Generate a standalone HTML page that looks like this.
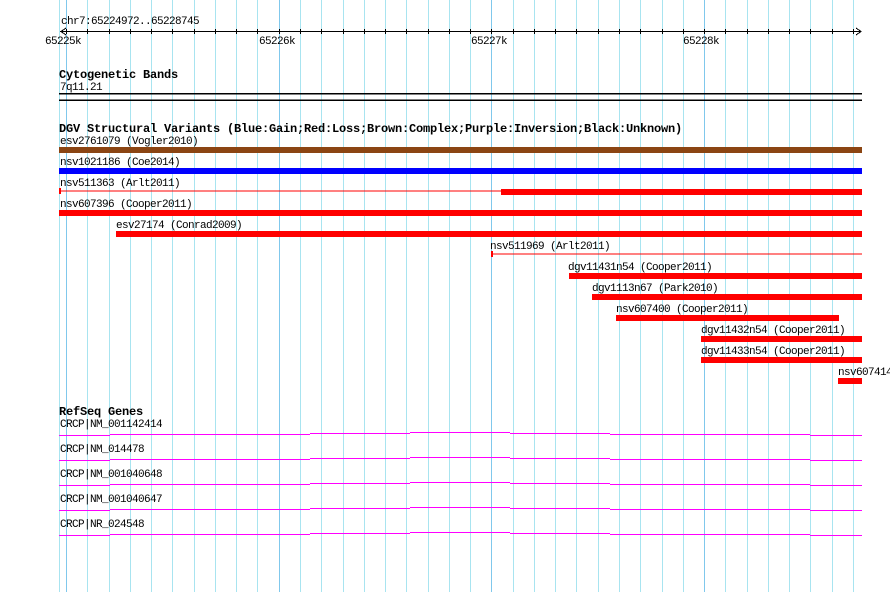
<!DOCTYPE html>
<html><head><meta charset="utf-8"><style>
html,body{margin:0;padding:0;background:#fff}
svg{display:block}
text{font-family:"Liberation Mono","DejaVu Sans Mono",monospace;font-size:11px;letter-spacing:-0.6px;fill:#000}
.b{font-weight:bold;font-size:12px;letter-spacing:-0.2px}
</style></head><body>
<svg width="890" height="592" viewBox="0 0 890 592" xmlns="http://www.w3.org/2000/svg">
<rect width="890" height="592" fill="#fff"/>
<g id="grid" stroke="#a8e4f0" stroke-width="1"></g>
<line x1="59.5" y1="0" x2="59.5" y2="592" stroke="#a8e4f0"/>
<g stroke="#000" stroke-width="1" shape-rendering="crispEdges">
<line x1="60" y1="31.5" x2="861" y2="31.5"/>
<polyline points="66,28 61,31.5 66,35" fill="none"/>
<polyline points="856,28 861,31.5 856,35" fill="none"/>
<g id="ticks"></g>
</g>
<text x="61" y="24">chr7:65224972..65228745</text>
<text x="45" y="44">65225k</text>
<text x="259" y="44">65226k</text>
<text x="471" y="44">65227k</text>
<text x="683" y="44">65228k</text>

<text class="b" x="59" y="78">Cytogenetic Bands</text>
<text x="60" y="90">7q11.21</text>
<rect x="59" y="93" width="803" height="1.5" fill="#000"/>
<rect x="59" y="99.5" width="803" height="1.5" fill="#000"/>

<text class="b" x="59" y="132" textLength="623" lengthAdjust="spacingAndGlyphs">DGV Structural Variants (Blue:Gain;Red:Loss;Brown:Complex;Purple:Inversion;Black:Unknown)</text>
<text x="60" y="144">esv2761079 (Vogler2010)</text>
<rect x="59" y="147" width="803" height="6" fill="#8b4513"/>
<text x="60" y="165">nsv1021186 (Coe2014)</text>
<rect x="59" y="168" width="803" height="6" fill="#0000ff"/>
<text x="60" y="186">nsv511363 (Arlt2011)</text>
<rect x="59" y="190.5" width="803" height="1" fill="#f00"/>
<rect x="59" y="188" width="2" height="6" fill="#f00"/>
<rect x="501" y="189" width="361" height="6" fill="#f00"/>
<text x="60" y="207">nsv607396 (Cooper2011)</text>
<rect x="59" y="210" width="803" height="6" fill="#f00"/>
<text x="116" y="228">esv27174 (Conrad2009)</text>
<rect x="116" y="231" width="746" height="6" fill="#f00"/>
<text x="490" y="249">nsv511969 (Arlt2011)</text>
<rect x="491" y="253.5" width="371" height="1" fill="#f00"/>
<rect x="491" y="251" width="2" height="6" fill="#f00"/>
<text x="568" y="270">dgv11431n54 (Cooper2011)</text>
<rect x="569" y="273" width="293" height="6" fill="#f00"/>
<text x="592" y="291">dgv1113n67 (Park2010)</text>
<rect x="592" y="294" width="270" height="6" fill="#f00"/>
<text x="616" y="312">nsv607400 (Cooper2011)</text>
<rect x="616" y="315" width="223" height="6" fill="#f00"/>
<text x="701" y="333">dgv11432n54 (Cooper2011)</text>
<rect x="701" y="336" width="161" height="6" fill="#f00"/>
<text x="701" y="354">dgv11433n54 (Cooper2011)</text>
<rect x="701" y="357" width="161" height="6" fill="#f00"/>
<text x="838" y="375">nsv607414</text>
<rect x="838" y="378" width="24" height="6" fill="#f00"/>

<text class="b" x="59" y="415">RefSeq Genes</text>
<g id="genes"></g>
</svg>
<script>
var ns="http://www.w3.org/2000/svg";
var g=document.getElementById('grid'),t=document.getElementById('ticks');
for(var i=0;i<38;i++){var x=Math.round(66+i*21.27)+0.5;
var l=document.createElementNS(ns,'line');l.setAttribute('x1',x);l.setAttribute('x2',x);l.setAttribute('y1',0);l.setAttribute('y2',592);
if(i%10==0)l.setAttribute('stroke','#80c8ec');g.appendChild(l);
var k=document.createElementNS(ns,'line');k.setAttribute('x1',x);k.setAttribute('x2',x);k.setAttribute('y1',29);k.setAttribute('y2',34);t.appendChild(k);}
var names=["CRCP|NM_001142414","CRCP|NM_014478","CRCP|NM_001040648","CRCP|NM_001040647","CRCP|NR_024548"];
var gg=document.getElementById('genes');
var xs=[59,110,210,310,410,510,610,710,810,862],dy=[0,-0.6,-1.3,-2,-2.6,-2,-1.3,-0.6,0];
for(var j=0;j<5;j++){var y0=435+j*25;
var tx=document.createElementNS(ns,'text');tx.setAttribute('x',60);tx.setAttribute('y',y0-8);tx.textContent=names[j];gg.appendChild(tx);
for(var s=0;s<9;s++){var r=document.createElementNS(ns,'rect');r.setAttribute('x',xs[s]);r.setAttribute('width',xs[s+1]-xs[s]);r.setAttribute('y',Math.round(y0+dy[s]));r.setAttribute('height',1);r.setAttribute('fill','#f0f');gg.appendChild(r);}}
</script>
</body></html>
